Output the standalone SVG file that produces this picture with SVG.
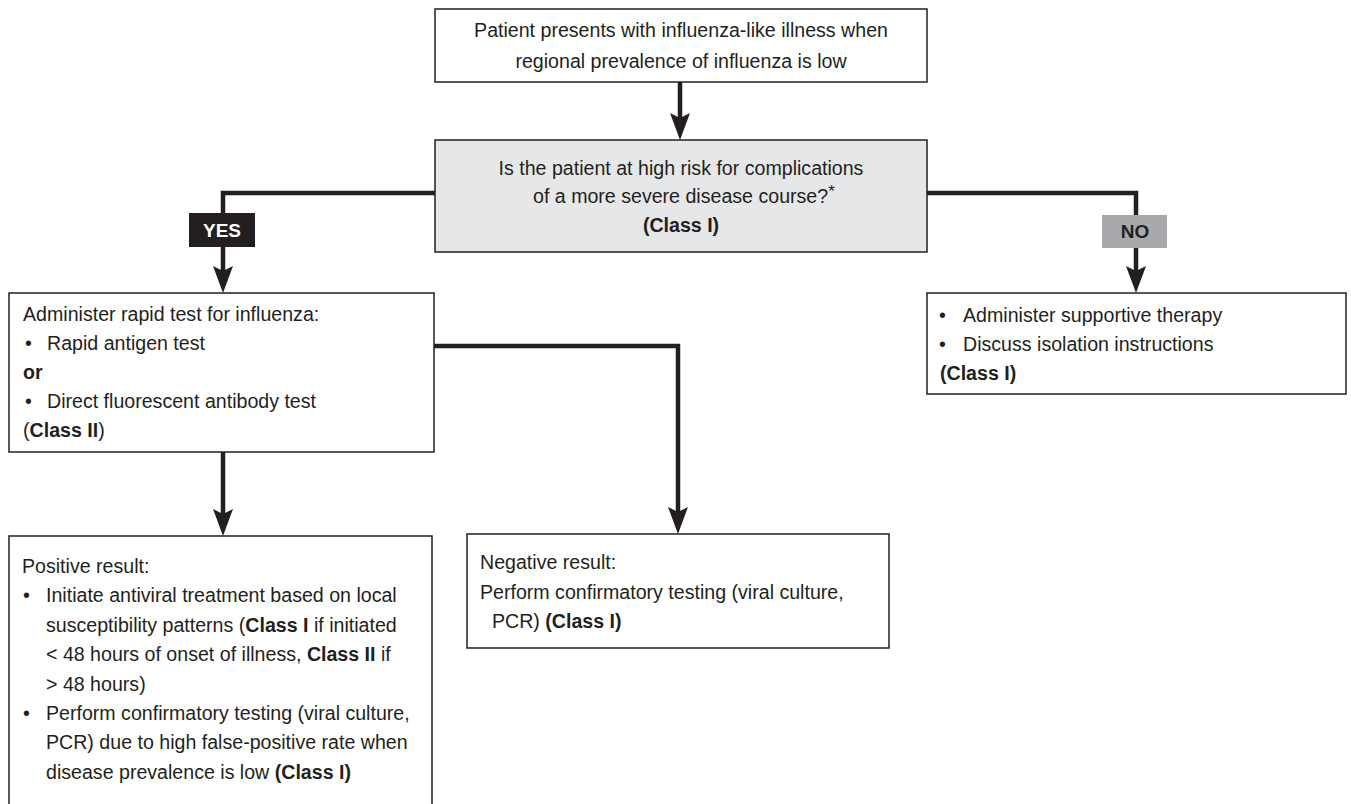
<svg xmlns="http://www.w3.org/2000/svg" width="1351" height="804" viewBox="0 0 1351 804">
<style>
.box{fill:#ffffff;stroke:#231f20;stroke-width:1.5}
.gbox{fill:#e6e7e8;stroke:#231f20;stroke-width:1.5}
.t{font-family:"Liberation Sans",Arial,Helvetica,sans-serif;font-size:19.6px;fill:#231f20}
.c{text-anchor:middle}
.b{font-weight:bold}
.line{fill:none;stroke:#231f20;stroke-width:4.5;stroke-linejoin:miter}
.lbl{font-family:"Liberation Sans",Arial,Helvetica,sans-serif;font-size:19px;font-weight:bold;text-anchor:middle}
.head{fill:#231f20}
</style>
<rect width="1351" height="804" fill="#ffffff"/>
<g id="connectors">
<path class="line" d="M680,82 V118"/>
<polygon class="head" points="680,140 670,113 680,118 690,113"/>
<path class="line" d="M435,193 H223 V271"/>
<polygon class="head" points="223,293 213,266 223,271 233,266"/>
<path class="line" d="M927,193 H1136 V271"/>
<polygon class="head" points="1136,293 1126,266 1136,271 1146,266"/>
<path class="line" d="M434,346 H678 V512"/>
<polygon class="head" points="678,534 668,507 678,512 688,507"/>
<path class="line" d="M223,452 V514"/>
<polygon class="head" points="223,536 213,509 223,514 233,509"/>
</g>
<g id="label-yes">
<rect x="189" y="213" width="66" height="34" fill="#231f20"/>
<text class="lbl" x="222" y="237" fill="#ffffff">YES</text>
</g>
<g id="label-no">
<rect x="1102" y="215" width="65" height="33" fill="#a7a9ac"/>
<text class="lbl" x="1135" y="238" fill="#231f20">NO</text>
</g>
<g id="node-start">
<rect class="box" x="435" y="9" width="492" height="73"/>
<text class="t c" x="681" y="37">Patient presents with influenza-like illness when</text>
<text class="t c" x="681" y="68">regional prevalence of influenza is low</text>
</g>
<g id="node-question">
<rect class="gbox" x="435" y="140" width="492" height="112"/>
<text class="t c" x="681" y="175">Is the patient at high risk for complications</text>
<text class="t" x="533" y="203">of a more severe disease course?<tspan font-size="17" dy="-6">*</tspan></text>
<text class="t c b" x="681" y="232">(Class I)</text>
</g>
<g id="node-rapid-test">
<rect class="box" x="9" y="293" width="425" height="159"/>
<text class="t" x="23" y="321">Administer rapid test for influenza:</text>
<text class="t" x="25" y="350">•</text>
<text class="t" x="47" y="350">Rapid antigen test</text>
<text class="t b" x="23" y="379">or</text>
<text class="t" x="25" y="408">•</text>
<text class="t" x="47" y="408">Direct fluorescent antibody test</text>
<text class="t" x="23" y="437">(<tspan class="b">Class II</tspan>)</text>
</g>
<g id="node-supportive">
<rect class="box" x="927" y="293" width="419" height="101"/>
<text class="t" x="939" y="322">•</text>
<text class="t" x="963" y="322">Administer supportive therapy</text>
<text class="t" x="939" y="351">•</text>
<text class="t" x="963" y="351">Discuss isolation instructions</text>
<text class="t b" x="940" y="380">(Class I)</text>
</g>
<g id="node-positive">
<rect class="box" x="9" y="536" width="423" height="275"/>
<text class="t" x="22" y="573">Positive result:</text>
<text class="t" x="23" y="602.4">•</text>
<text class="t" x="46" y="602.4">Initiate antiviral treatment based on local</text>
<text class="t" x="46" y="631.8">susceptibility patterns (<tspan class="b">Class I</tspan> if initiated</text>
<text class="t" x="46" y="661.2">&lt; 48 hours of onset of illness, <tspan class="b">Class II</tspan> if</text>
<text class="t" x="46" y="690.6">&gt; 48 hours)</text>
<text class="t" x="23" y="720">•</text>
<text class="t" x="46" y="720">Perform confirmatory testing (viral culture,</text>
<text class="t" x="46" y="749.4">PCR) due to high false-positive rate when</text>
<text class="t" x="46" y="778.8">disease prevalence is low <tspan class="b">(Class I)</tspan></text>
</g>
<g id="node-negative">
<rect class="box" x="467" y="534" width="422" height="114"/>
<text class="t" x="480" y="569">Negative result:</text>
<text class="t" x="480" y="599">Perform confirmatory testing (viral culture,</text>
<text class="t" x="492" y="628">PCR) <tspan class="b">(Class I)</tspan></text>
</g>
</svg>
